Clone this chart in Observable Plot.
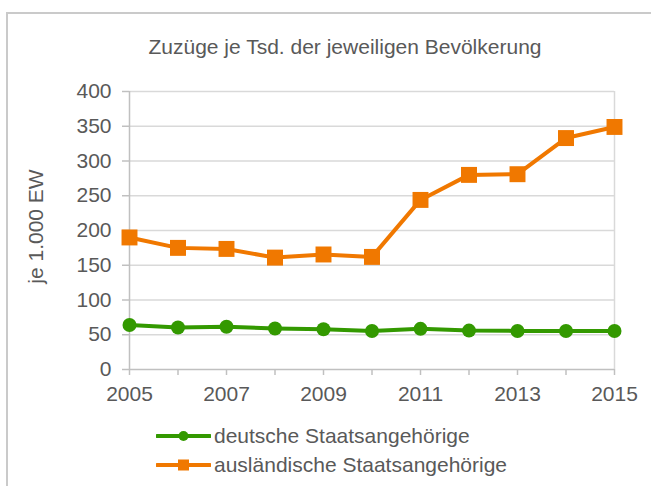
<!DOCTYPE html>
<html>
<head>
<meta charset="utf-8">
<script src="https://cdn.jsdelivr.net/npm/d3@7"></script>
<script src="https://cdn.jsdelivr.net/npm/@observablehq/plot@0.6"></script>
<style>
  html, body { margin: 0; padding: 0; background: #fff; width: 651px; height: 486px; overflow: hidden; }
  body { font-family: "Liberation Sans", Arial, sans-serif; color: #595959; position: relative; }
  #frame { position: absolute; left: 6px; top: 12px; width: 700px; height: 520px; border-top: 2px solid #cacaca; border-left: 2px solid #cacaca; }
  #title { position: absolute; left: 0; width: 690px; top: 35px; text-align: center; font-size: 21px; line-height: 24px; }
  #chart { position: absolute; left: 0; top: 70px; }
  .leg { position: absolute; left: 156px; font-size: 21px; line-height: 24px; display: flex; align-items: center; white-space: nowrap; }
  .leg svg { margin-right: 3px; }
</style>
</head>
<body>
<div id="frame"></div>
<div id="title">Zuzüge je Tsd. der jeweiligen Bevölkerung</div>
<div id="chart"></div>
<div class="leg" id="leg1" style="top:424px"></div>
<div class="leg" id="leg2" style="top:453px"></div>
<script>
const years = [2005, 2006, 2007, 2008, 2009, 2010, 2011, 2012, 2013, 2014, 2015];
const deutsche = [64, 60.5, 61.5, 59, 58, 55.5, 58.5, 56, 55.5, 55.5, 55.5];
const auslaendische = [190, 175, 173.5, 161, 165.5, 162, 244, 280, 281, 333, 349];
const seriesNames = ["deutsche Staatsangehörige", "ausländische Staatsangehörige"];
const yTicks = [0, 50, 100, 150, 200, 250, 300, 350, 400];
const xTickLabels = [2005, 2007, 2009, 2011, 2013, 2015];
const yLabel = "je 1.000 EW";
const green = "#339900";
const orange = "#f07800";

const de = years.map((y, i) => ({year: y, value: deutsche[i]}));
const au = years.map((y, i) => ({year: y, value: auslaendische[i]}));

const chart = Plot.plot({
  width: 651,
  height: 340,
  marginTop: 21,
  marginBottom: 41,
  marginLeft: 129,
  marginRight: 37,
  x: {domain: [2005, 2015]},
  y: {domain: [0, 400]},
  style: {fontFamily: "'Liberation Sans', Arial, sans-serif", fontSize: "21px", color: "#595959", background: "transparent", overflow: "visible"},
  marks: [
    Plot.gridY(yTicks.filter(d => d > 0), {stroke: "#d9d9d9", strokeOpacity: 1, strokeWidth: 1.5}),
    Plot.ruleX([2015], {stroke: "#d9d9d9", strokeWidth: 1.5}),
    Plot.ruleX([2005], {stroke: "#c0c0c0", strokeWidth: 1.5}),
    Plot.ruleY([0], {stroke: "#c0c0c0", strokeWidth: 1.5}),
    Plot.axisY({ticks: yTicks, tickSize: 7, tickPadding: 11, stroke: "#c0c0c0", strokeWidth: 1.5, tickFormat: d => String(d), fill: "#595959", fontSize: 21, label: null}),
    Plot.axisX({ticks: years, tickSize: 6, tickPadding: 11, stroke: "#c0c0c0", strokeWidth: 1.5, tickFormat: d => (xTickLabels.includes(d) ? String(d) : ""), fill: "#595959", fontSize: 21, label: null}),
    Plot.text([yLabel], {frameAnchor: "left", dx: -93, dy: -4, rotate: -90, textAnchor: "middle", fontSize: 21, fill: "#595959"}),
    Plot.line(au, {x: "year", y: "value", stroke: orange, strokeWidth: 4}),
    Plot.dot(au, {x: "year", y: "value", symbol: "square", r: 9, fill: orange, stroke: "none"}),
    Plot.line(de, {x: "year", y: "value", stroke: green, strokeWidth: 4}),
    Plot.dot(de, {x: "year", y: "value", r: 7, fill: green, stroke: "none"})
  ]
});
document.getElementById("chart").appendChild(chart);

function legendItem(el, name, color, sym) {
  const s = d3.create("svg").attr("width", 55).attr("height", 20);
  s.append("line").attr("x1", 1).attr("x2", 54).attr("y1", 10).attr("y2", 10).attr("stroke", color).attr("stroke-width", 4).attr("stroke-linecap", "round");
  if (sym === "circle") s.append("circle").attr("cx", 27.5).attr("cy", 10).attr("r", 5).attr("fill", color);
  else s.append("rect").attr("x", 22).attr("y", 4.5).attr("width", 11).attr("height", 11).attr("fill", color);
  el.appendChild(s.node());
  const t = document.createElement("span");
  t.textContent = name;
  el.appendChild(t);
}
legendItem(document.getElementById("leg1"), seriesNames[0], green, "circle");
legendItem(document.getElementById("leg2"), seriesNames[1], orange, "square");
</script>
</body>
</html>
